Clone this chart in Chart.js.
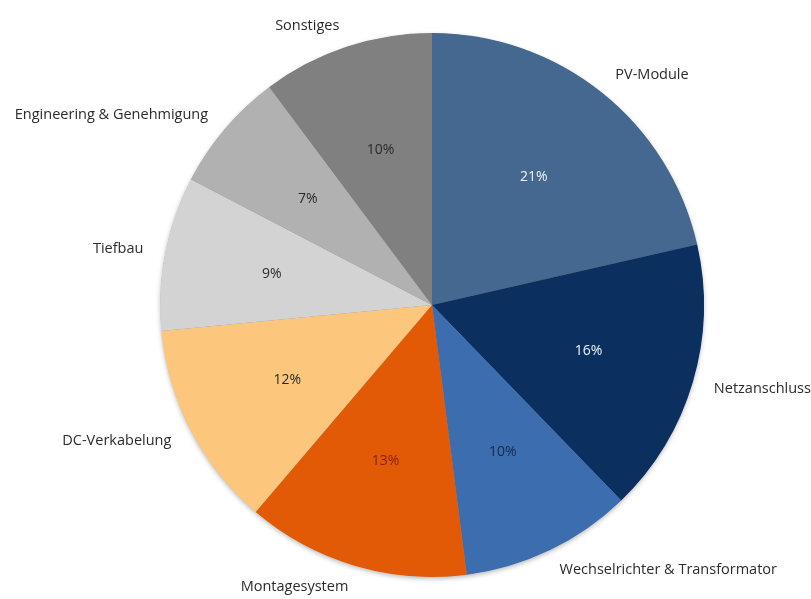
<!DOCTYPE html>
<html>
<head>
<meta charset="UTF-8">
<title>Kostenverteilung PV-Anlage</title>
<script src="https://cdn.jsdelivr.net/npm/chart.js@4.4.1/dist/chart.umd.min.js"></script>
<style>
    html, body { margin: 0; padding: 0; background: #fff; }
    #holder { width: 811px; height: 599px; }
</style>
</head>
<body>
<div id="holder"><canvas id="chart-area"></canvas></div>
<script>
    var labels = ['PV-Module', 'Netzanschluss', 'Wechselrichter & Transformator', 'Montagesystem',
        'DC-Verkabelung', 'Tiefbau', 'Engineering & Genehmigung', 'Sonstiges'];
    var shares = [21, 16, 10, 13, 12, 9, 7, 10];
    var colors = ['#44688f', '#0b3060', '#3b6daf', '#e25a05', '#fdc67d', '#d3d3d3', '#b1b1b1', '#808080'];
    var pctColors = ['#f2f2f2', '#f2f2f2', '#152a4a', '#8a1e14', '#2a2a2a', '#2a2a2a', '#2a2a2a', '#2a2a2a'];

    var FONT = '"Open Sans", "Noto Sans", sans-serif';

    // soft shadow round the outer edge of the pie only
    var pieShadow = {
        id: 'pieShadow',
        beforeDatasetsDraw: function (chart) {
            var arc = chart.getDatasetMeta(0).data[0];
            if (!arc) return;
            var ctx = chart.ctx;
            ctx.save();
            ctx.shadowColor = 'rgba(0,0,0,0.3)';
            ctx.shadowBlur = 5;
            ctx.shadowOffsetY = 2;
            ctx.fillStyle = '#888';
            ctx.beginPath();
            ctx.arc(arc.x, arc.y, arc.outerRadius - 0.5, 0, Math.PI * 2);
            ctx.fill();
            ctx.restore();
        }
    };

    // percentages inside, category names outside
    var sliceLabels = {
        id: 'sliceLabels',
        afterDraw: function (chart) {
            var ctx = chart.ctx;
            var arcs = chart.getDatasetMeta(0).data;
            var total = shares.reduce(function (a, b) { return a + b; }, 0);
            ctx.save();
            arcs.forEach(function (arc, i) {
                var mid = (arc.startAngle + arc.endAngle) / 2;
                var r = arc.outerRadius;
                var cx = arc.x, cy = arc.y;

                ctx.font = '14px ' + FONT;
                ctx.fillStyle = pctColors[i];
                ctx.textAlign = 'center';
                ctx.textBaseline = 'middle';
                var pct = Math.round(shares[i] / total * 100) + '%';
                ctx.fillText(pct, cx + Math.cos(mid) * r * 0.6, cy + Math.sin(mid) * r * 0.6);

                var lx = cx + Math.cos(mid) * (r + 22);
                var ly = cy + Math.sin(mid) * (r + 22);
                ctx.font = '14.5px ' + FONT;
                ctx.fillStyle = '#2b2b2b';
                ctx.textAlign = Math.cos(mid) >= 0 ? 'left' : 'right';
                ctx.fillText(labels[i], lx, ly);
            });
            ctx.restore();
        }
    };

    var config = {
        type: 'pie',
        data: {
            labels: labels,
            datasets: [{
                data: shares,
                backgroundColor: colors,
                borderWidth: 0
            }]
        },
        options: {
            responsive: true,
            maintainAspectRatio: false,
            animation: false,
            layout: { padding: { top: 33, bottom: 22, left: 160, right: 107 } },
            plugins: {
                legend: { display: false },
                tooltip: { enabled: false }
            }
        },
        plugins: [pieShadow, sliceLabels]
    };

    var ctx = document.getElementById('chart-area').getContext('2d');
    window.myPie = new Chart(ctx, config);
</script>
</body>
</html>
